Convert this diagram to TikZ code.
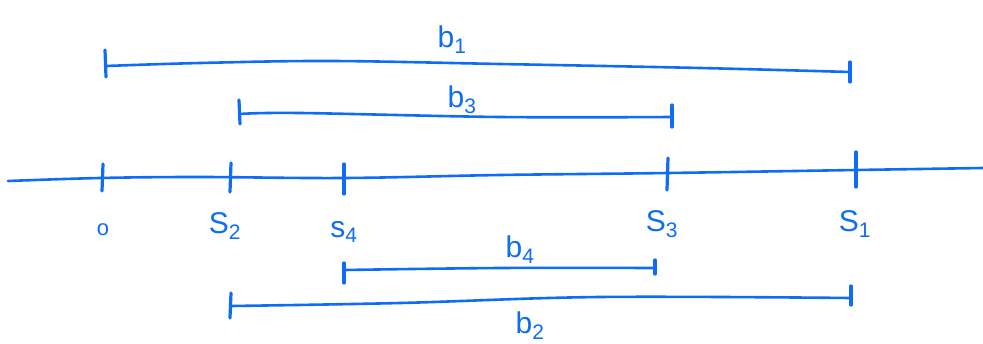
\documentclass[tikz,border=0pt]{standalone}
\usepackage{fontspec}
\setmainfont{Liberation Sans}
\definecolor{pen}{RGB}{15,108,245}
\begin{document}
\begin{tikzpicture}[x=1pt,y=-1pt,
  stroke/.style={draw=pen,line width=2.6pt,line cap=round,line join=round},
  tickmark/.style={draw=pen,line width=3.2pt,line cap=round},
  lbl/.style={text=pen,font=\fontsize{30}{30}\selectfont,inner sep=0pt}]
\useasboundingbox (0,0) rectangle (983,343);
% main axis
\draw[stroke] plot[smooth,tension=0.6] coordinates {(8,181) (100,178) (200,177) (344,178) (500,175) (668,173) (856,170) (983,168)};
\draw[tickmark] (103,164) -- (102,191);
\draw[tickmark] (231,163) -- (230,192);
\draw[tickmark] (344,164) -- (344,194);
\draw[tickmark] (668,158) -- (667,190);
\draw[tickmark] (856,152) -- (856,187);
\node[lbl] (o) at (103,230) {\fontsize{22}{22}\selectfont o};
\node[lbl] (s2) at (225,226) {S\textsubscript{2}};
\node[lbl] (s4) at (344,232) {s\textsubscript{4}};
\node[lbl] (s3) at (662,224) {S\textsubscript{3}};
\node[lbl] (s1) at (855,224) {S\textsubscript{1}};
% b1
\draw[tickmark] (105,50) -- (106,77);
\draw[stroke] plot[smooth,tension=0.6] coordinates {(106,66) (200,63) (330,61) (500,64) (700,68) (850,72)};
\draw[tickmark] (850,62) -- (850,82);
\node[lbl] (b1) at (452,40) {b\textsubscript{1}};
% b3
\draw[tickmark] (239,100) -- (240,124);
\draw[stroke] plot[smooth,tension=0.6] coordinates {(240,114) (300,113) (500,117) (672,117)};
\draw[tickmark] (672,105) -- (672,127);
\node[lbl] (b3) at (462,100) {b\textsubscript{3}};
% b4
\draw[tickmark] (344,263) -- (344,283);
\draw[stroke] plot[smooth,tension=0.6] coordinates {(344,270) (500,268) (655,268)};
\draw[tickmark] (655,260) -- (655,274);
\node[lbl] (b4) at (520,250) {b\textsubscript{4}};
% b2
\draw[tickmark] (231,293) -- (230,318);
\draw[stroke] plot[smooth,tension=0.6] coordinates {(231,306) (400,303) (600,297) (851,298)};
\draw[tickmark] (851,286) -- (851,305);
\node[lbl] (b2) at (530,326) {b\textsubscript{2}};
\end{tikzpicture}
\end{document}
